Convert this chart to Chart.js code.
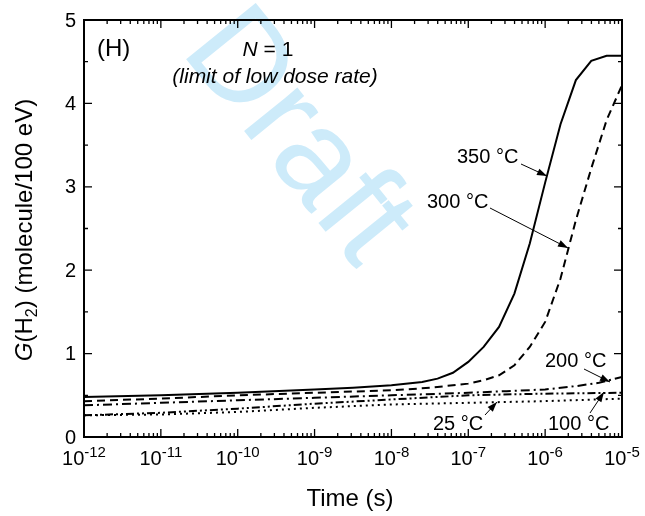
<!DOCTYPE html>
<html>
<head>
<meta charset="utf-8">
<script src="https://cdn.jsdelivr.net/npm/chart.js@4"></script>
<style>
  html, body { margin: 0; padding: 0; background: #fff; }
  #wrap { width: 645px; height: 516px; }
</style>
</head>
<body>
<div id="wrap"><canvas id="chart" width="645" height="516"></canvas></div>
<script>
// time given as log10 exponent, G(H2) in molecule/100 eV
const exp350 = [-12, -11, -10, -9, -8.5, -8, -7.6, -7.4, -7.2, -7.0, -6.8, -6.6, -6.4, -6.2, -6.0, -5.8, -5.6, -5.4, -5.2, -5.0]
const g350 = [0.48, 0.50, 0.53, 0.57, 0.59, 0.62, 0.66, 0.70, 0.77, 0.90, 1.08, 1.32, 1.72, 2.32, 3.05, 3.75, 4.28, 4.51, 4.57, 4.57]

const exp300 = [-12, -11, -10, -9, -8, -7.5, -7.2, -7.0, -6.8, -6.6, -6.4, -6.2, -6.0, -5.8, -5.6, -5.4, -5.2, -5.0]
const g300 = [0.43, 0.46, 0.50, 0.53, 0.56, 0.59, 0.62, 0.64, 0.68, 0.74, 0.86, 1.08, 1.38, 1.90, 2.60, 3.22, 3.80, 4.22]

const exp200 = [-12, -11, -10, -9, -8, -7, -6.5, -6, -5.6, -5.3, -5.0]
const g200 = [0.38, 0.41, 0.44, 0.47, 0.50, 0.53, 0.55, 0.57, 0.61, 0.65, 0.72]

const expLow = [-12, -11, -10, -9, -8, -7, -6, -5]
const g100 = [0.26, 0.29, 0.34, 0.40, 0.45, 0.50, 0.52, 0.53]
const g25 = [0.26, 0.27, 0.30, 0.35, 0.39, 0.41, 0.43, 0.46]

const xDecades = [-12, -11, -10, -9, -8, -7, -6, -5]
const yTicks = [0, 1, 2, 3, 4, 5]

const FONT = "'Liberation Sans', Arial, sans-serif"

function toPoints(exps, vals) {
  return exps.map((e, i) => ({ x: Math.pow(10, e), y: vals[i] }))
}

function line(label, exps, vals, dash) {
  return {
    label: label,
    data: toPoints(exps, vals),
    borderColor: "#000",
    borderWidth: 2,
    borderDash: dash,
    pointRadius: 0,
    tension: 0,
    fill: false,
  }
}

// text annotations with arrows: label pos, arrow start, arrow tip
const notes = [
  { text: "350 \u00B0C", x: 457, y: 163, from: [521, 164], to: [547, 176] },
  { text: "300 \u00B0C", x: 427, y: 208, from: [490, 208], to: [568, 248] },
  { text: "200 \u00B0C", x: 545, y: 367, from: [584, 369], to: [610, 382] },
  { text: "25 \u00B0C", x: 433, y: 430, from: [485, 415], to: [497, 402] },
  { text: "100 \u00B0C", x: 548, y: 430, from: [590, 413], to: [604, 392] },
]

function arrow(ctx, a, b) {
  ctx.beginPath()
  ctx.moveTo(a[0], a[1])
  ctx.lineTo(b[0], b[1])
  ctx.stroke()
  const ang = Math.atan2(b[1] - a[1], b[0] - a[0])
  const len = 10, w = 3.5
  ctx.beginPath()
  ctx.moveTo(b[0], b[1])
  ctx.lineTo(b[0] - len * Math.cos(ang) + w * Math.sin(ang), b[1] - len * Math.sin(ang) - w * Math.cos(ang))
  ctx.lineTo(b[0] - len * Math.cos(ang) - w * Math.sin(ang), b[1] - len * Math.sin(ang) + w * Math.cos(ang))
  ctx.closePath()
  ctx.fill()
}

const watermark = {
  id: "watermark",
  beforeDatasetsDraw(chart) {
    const ctx = chart.ctx
    ctx.save()
    ctx.translate(296, 138)
    ctx.rotate(51 * Math.PI / 180)
    ctx.fillStyle = "#cdebfa"
    ctx.font = "130px " + FONT
    ctx.textAlign = "center"
    ctx.textBaseline = "middle"
    ctx.fillText("Draft", 0, 0)
    ctx.restore()
  },
}

const frame = {
  id: "frame",
  afterDraw(chart) {
    const ctx = chart.ctx
    const a = chart.chartArea
    const xs = chart.scales.x
    const ys = chart.scales.y
    ctx.save()
    ctx.strokeStyle = "#000"
    ctx.fillStyle = "#000"

    // inward ticks on all four sides
    ctx.lineWidth = 1.3
    ctx.beginPath()
    xDecades.forEach((e, i) => {
      for (let m = 1; m <= 9; m++) {
        if (m > 1 && i === xDecades.length - 1) break
        const px = xs.getPixelForValue(m * Math.pow(10, e))
        const len = m === 1 ? 8 : 4
        ctx.moveTo(px, a.bottom)
        ctx.lineTo(px, a.bottom - len)
        ctx.moveTo(px, a.top)
        ctx.lineTo(px, a.top + len)
      }
    })
    for (let v = 0; v <= 5; v += 0.5) {
      const py = ys.getPixelForValue(v)
      const len = v % 1 === 0 ? 8 : 4
      ctx.moveTo(a.left, py)
      ctx.lineTo(a.left + len, py)
      ctx.moveTo(a.right, py)
      ctx.lineTo(a.right - len, py)
    }
    ctx.stroke()

    ctx.lineWidth = 2
    ctx.strokeRect(a.left, a.top, a.right - a.left, a.bottom - a.top)

    // y tick labels
    ctx.font = "20px " + FONT
    ctx.textAlign = "right"
    ctx.textBaseline = "middle"
    yTicks.forEach(v => ctx.fillText(String(v), a.left - 8, ys.getPixelForValue(v) + 1))

    // x tick labels 10^n
    ctx.textAlign = "left"
    ctx.textBaseline = "alphabetic"
    xDecades.forEach(e => {
      const px = xs.getPixelForValue(Math.pow(10, e))
      ctx.font = "20px " + FONT
      const wb = ctx.measureText("10").width
      ctx.font = "15px " + FONT
      const ws = ctx.measureText(String(e)).width
      const x0 = px - (wb + ws) / 2
      ctx.font = "20px " + FONT
      ctx.fillText("10", x0, 465)
      ctx.font = "15px " + FONT
      ctx.fillText(String(e), x0 + wb, 457)
    })

    // axis titles
    ctx.font = "24px " + FONT
    ctx.textAlign = "center"
    ctx.fillText("Time (s)", 350, 506)

    ctx.save()
    ctx.translate(32, 230)
    ctx.rotate(-Math.PI / 2)
    const parts = [
      { t: "G", f: "italic 24px " + FONT, dy: 0 },
      { t: "(H", f: "24px " + FONT, dy: 0 },
      { t: "2", f: "16px " + FONT, dy: 5 },
      { t: ") (molecule/100 eV)", f: "24px " + FONT, dy: 0 },
    ]
    let total = 0
    parts.forEach(p => { ctx.font = p.f; p.w = ctx.measureText(p.t).width; total += p.w })
    let cx = -total / 2
    ctx.textAlign = "left"
    parts.forEach(p => { ctx.font = p.f; ctx.fillText(p.t, cx, p.dy); cx += p.w })
    ctx.restore()

    // panel annotations
    ctx.textAlign = "left"
    ctx.font = "24px " + FONT
    ctx.fillText("(H)", 97, 56)
    ctx.font = "italic 21px " + FONT
    const wN = ctx.measureText("N").width
    ctx.font = "21px " + FONT
    const wRest = ctx.measureText(" = 1").width
    const nx = 268 - (wN + wRest) / 2
    ctx.font = "italic 21px " + FONT
    ctx.fillText("N", nx, 56)
    ctx.font = "21px " + FONT
    ctx.fillText(" = 1", nx + wN, 56)
    ctx.font = "italic 21px " + FONT
    ctx.textAlign = "center"
    ctx.fillText("(limit of low dose rate)", 275, 83)

    // temperature labels and arrows
    ctx.font = "20px " + FONT
    ctx.textAlign = "left"
    ctx.lineWidth = 1
    notes.forEach(n => {
      ctx.fillText(n.text, n.x, n.y)
      arrow(ctx, n.from, n.to)
    })
    ctx.restore()
  },
}

new Chart(document.getElementById("chart"), {
  type: "line",
  data: {
    datasets: [
      line("350 \u00B0C", exp350, g350, []),
      line("300 \u00B0C", exp300, g300, [8, 5]),
      line("200 \u00B0C", exp200, g200, [9, 4, 2, 4]),
      line("100 \u00B0C", expLow, g100, [8, 3, 2, 3, 2, 3]),
      line("25 \u00B0C", expLow, g25, [2, 4]),
    ],
  },
  options: {
    responsive: false,
    animation: false,
    layout: { padding: { left: 84, right: 23, top: 20, bottom: 79 } },
    scales: {
      x: { type: "logarithmic", min: 1e-12, max: 1e-5, display: false },
      y: { type: "linear", min: 0, max: 5, display: false },
    },
    plugins: {
      legend: { display: false },
      tooltip: { enabled: false },
    },
  },
  plugins: [watermark, frame],
})
</script>
</body>
</html>
